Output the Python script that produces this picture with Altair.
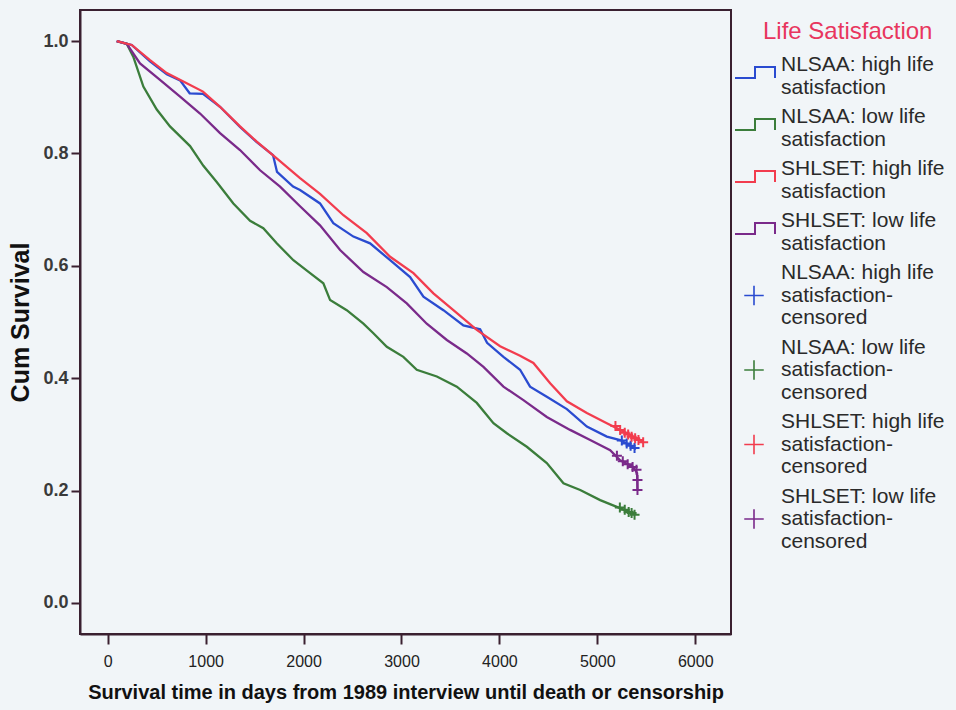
import altair as alt
import pandas as pd

# ---------------- data ----------------
GROUPS = [
    "NLSAA: high life satisfaction",
    "NLSAA: low life satisfaction",
    "SHLSET: high life satisfaction",
    "SHLSET: low life satisfaction",
]
COLORS = ["#2a4bd0", "#3b7d3b", "#f23c4e", "#7a2a8a"]

nl_high_days = [92, 245, 432, 603, 739, 837, 973, 1147, 1351, 1522, 1688, 1729, 1893, 1964, 2168, 2304,
                2509, 2679, 2884, 3088, 3224, 3428, 3632, 3803, 3874, 4041, 4211, 4313, 4484, 4689,
                4893, 5097, 5233, 5397]
nl_high_surv = [1.0, 0.993, 0.964, 0.941, 0.930, 0.907, 0.906, 0.883, 0.847, 0.820, 0.797, 0.767, 0.741,
                0.735, 0.711, 0.676, 0.652, 0.640, 0.610, 0.580, 0.545, 0.521, 0.494, 0.487, 0.463,
                0.438, 0.415, 0.385, 0.367, 0.345, 0.314, 0.296, 0.290, 0.274]

nl_low_days = [92, 194, 261, 364, 501, 636, 841, 977, 1113, 1283, 1454, 1589, 1726, 1896, 2067, 2202,
               2271, 2441, 2611, 2713, 2850, 3019, 3156, 3361, 3565, 3769, 3939, 4076, 4280, 4484,
               4654, 4825, 5029, 5199, 5369]
nl_low_surv = [1.0, 0.995, 0.972, 0.919, 0.878, 0.848, 0.813, 0.778, 0.749, 0.711, 0.680, 0.667, 0.640,
               0.610, 0.587, 0.569, 0.539, 0.521, 0.497, 0.480, 0.456, 0.438, 0.415, 0.403, 0.385,
               0.356, 0.320, 0.302, 0.278, 0.249, 0.213, 0.201, 0.183, 0.171, 0.159]

sh_high_days = [92, 245, 432, 603, 807, 973, 1147, 1351, 1522, 1726, 1964, 2168, 2407, 2646, 2884, 3122,
                3326, 3530, 3769, 4007, 4211, 4347, 4518, 4689, 4893, 5097, 5233, 5437, 5470]
sh_high_surv = [1.0, 0.993, 0.966, 0.943, 0.925, 0.910, 0.883, 0.848, 0.821, 0.791, 0.756, 0.728, 0.690,
                0.658, 0.616, 0.587, 0.551, 0.521, 0.486, 0.457, 0.440, 0.427, 0.391, 0.359, 0.338,
                0.320, 0.308, 0.290, 0.285]

sh_low_days = [92, 194, 330, 534, 739, 943, 1147, 1351, 1556, 1760, 1964, 2168, 2373, 2611, 2850, 3054,
               3258, 3463, 3667, 3837, 4041, 4245, 4484, 4722, 4927, 5131, 5233, 5366, 5406, 5410]
sh_low_surv = [1.0, 0.995, 0.960, 0.931, 0.901, 0.871, 0.836, 0.806, 0.770, 0.741, 0.706, 0.672, 0.628,
               0.589, 0.562, 0.533, 0.497, 0.468, 0.444, 0.420, 0.385, 0.361, 0.331, 0.308, 0.290,
               0.272, 0.254, 0.242, 0.231, 0.201]

# censored observations
cens_nl_high_days = [5250, 5300, 5340, 5380]
cens_nl_high_surv = [0.289, 0.284, 0.280, 0.276]
cens_nl_low_days = [5230, 5280, 5320, 5350, 5380]
cens_nl_low_surv = [0.170, 0.166, 0.162, 0.160, 0.157]
cens_sh_high_days = [5185, 5233, 5280, 5315, 5350, 5386, 5420, 5468]
cens_sh_high_surv = [0.315, 0.308, 0.303, 0.300, 0.296, 0.293, 0.290, 0.286]
cens_sh_low_days = [5200, 5260, 5310, 5360, 5400, 5410, 5410]
cens_sh_low_surv = [0.262, 0.252, 0.247, 0.242, 0.237, 0.219, 0.201]

X_TICKS = [0, 1000, 2000, 3000, 4000, 5000, 6000]
Y_TICKS = [0.0, 0.2, 0.4, 0.6, 0.8, 1.0]
X_TITLE = "Survival time in days from 1989 interview until death or censorship"
Y_TITLE = "Cum Survival"
LEGEND_TITLE = "Life Satisfaction"
LEGEND_ITEMS = [
    (["NLSAA: high life", "satisfaction"], 0, "line"),
    (["NLSAA: low life", "satisfaction"], 1, "line"),
    (["SHLSET: high life", "satisfaction"], 2, "line"),
    (["SHLSET: low life", "satisfaction"], 3, "line"),
    (["NLSAA: high life", "satisfaction-", "censored"], 0, "cens"),
    (["NLSAA: low life", "satisfaction-", "censored"], 1, "cens"),
    (["SHLSET: high life", "satisfaction-", "censored"], 2, "cens"),
    (["SHLSET: low life", "satisfaction-", "censored"], 3, "cens"),
]

# ---------------- layout ----------------
FONT = "Liberation Sans"
FRAME = "#3a2030"
BG = "#f1f5f8"
LEFT, TOP, W, H = 80, 10, 651, 624
TOTAL_W, TOTAL_H = 956, 710
LINE_STEP = 22.5
ITEM_GAP = 7

series = [
    (GROUPS[0], nl_high_days, nl_high_surv, cens_nl_high_days, cens_nl_high_surv),
    (GROUPS[1], nl_low_days, nl_low_surv, cens_nl_low_days, cens_nl_low_surv),
    (GROUPS[2], sh_high_days, sh_high_surv, cens_sh_high_days, cens_sh_high_surv),
    (GROUPS[3], sh_low_days, sh_low_surv, cens_sh_low_days, cens_sh_low_surv),
]

x_scale = alt.Scale(domain=[-283, 6365], nice=False, zero=False)
y_scale = alt.Scale(domain=[-0.0552, 1.0552], nice=False, zero=False)
color_scale = alt.Scale(domain=GROUPS, range=COLORS)

x_axis = alt.Axis(values=X_TICKS, format="d", title=X_TITLE, grid=False, tickSize=10, tickWidth=2,
                  tickColor=FRAME, domainColor=FRAME, domainWidth=2,
                  labelFont=FONT, labelFontSize=16, labelColor="#222222", labelPadding=9,
                  titleFont=FONT, titleFontSize=20, titleFontWeight="bold", titleColor="#111111",
                  titlePadding=13, labelFlush=False)
y_axis = alt.Axis(values=Y_TICKS, format=".1f", title=Y_TITLE, grid=False, tickSize=9, tickWidth=2,
                  tickColor=FRAME, domainColor=FRAME, domainWidth=2,
                  labelFont=FONT, labelFontSize=18, labelFontWeight="bold", labelColor="#3a3a3a",
                  labelPadding=3, titleFont=FONT, titleFontSize=25, titleFontWeight="bold",
                  titleColor="#111111", titlePadding=9, labelFlush=False)

draw_order = [1, 3, 0, 2]
data_layers = []
for k in draw_order:
    g, d, s, cd, cs = series[k]
    df = pd.DataFrame({"group": g, "day": d, "surv": s, "i": list(range(len(d)))})
    data_layers.append(
        alt.Chart(df).mark_line(strokeWidth=2.3).encode(
            x=alt.X("day:Q", scale=x_scale, axis=x_axis),
            y=alt.Y("surv:Q", scale=y_scale, axis=y_axis),
            color=alt.Color("group:N", scale=color_scale, legend=None),
            order="i:Q",
        )
    )
for k in draw_order:
    g, d, s, cd, cs = series[k]
    cdf = pd.DataFrame({"group": g, "day": cd, "surv": cs})
    data_layers.append(
        alt.Chart(cdf).mark_point(shape="M-1,0L1,0M0,-1L0,1", size=100, strokeWidth=2,
                                  filled=False, opacity=1).encode(
            x=alt.X("day:Q", scale=x_scale, axis=x_axis),
            y=alt.Y("surv:Q", scale=y_scale, axis=y_axis),
            color=alt.Color("group:N", scale=color_scale, legend=None),
        )
    )
main = alt.layer(*data_layers)

# ---------------- custom legend (pixel positions relative to plot origin) ----------------
text_rows, step_rows, cross_rows = [], [], []
yc = 65
for lines, gi, kind in LEGEND_ITEMS:
    for j, t in enumerate(lines):
        text_rows.append({"lx": 781 - LEFT, "ly": yc + j * LINE_STEP - TOP, "t": t})
    if kind == "line":
        pts = [(735, yc + 13), (755, yc + 13), (755, yc + 2), (775, yc + 2), (775, yc + 13)]
        for o, (px, py) in enumerate(pts):
            step_rows.append({"lx": px - LEFT, "ly": py - TOP, "group": GROUPS[gi], "o": o})
    else:
        cross_rows.append({"lx": 754 - LEFT, "ly": yc + LINE_STEP - TOP, "group": GROUPS[gi]})
    yc += len(lines) * LINE_STEP + ITEM_GAP

leg_text = alt.Chart(pd.DataFrame(text_rows)).mark_text(
    align="left", baseline="middle", font=FONT, fontSize=21, color="#2a2a2a"
).encode(x=alt.X("lx:Q", scale=None, axis=None), y=alt.Y("ly:Q", scale=None, axis=None), text="t:N")

leg_title = alt.Chart(pd.DataFrame({"lx": [763 - LEFT], "ly": [32 - TOP], "t": [LEGEND_TITLE]})).mark_text(
    align="left", baseline="middle", font=FONT, fontSize=24, color="#e8365e"
).encode(x=alt.X("lx:Q", scale=None, axis=None), y=alt.Y("ly:Q", scale=None, axis=None), text="t:N")

leg_steps = alt.Chart(pd.DataFrame(step_rows)).mark_line(strokeWidth=2).encode(
    x=alt.X("lx:Q", scale=None, axis=None), y=alt.Y("ly:Q", scale=None, axis=None),
    color=alt.Color("group:N", scale=color_scale, legend=None), order="o:Q",
)
leg_cross = alt.Chart(pd.DataFrame(cross_rows)).mark_point(
    shape="M-1,0L1,0M0,-1L0,1", size=380, strokeWidth=1.6, filled=False, opacity=1
).encode(
    x=alt.X("lx:Q", scale=None, axis=None), y=alt.Y("ly:Q", scale=None, axis=None),
    color=alt.Color("group:N", scale=color_scale, legend=None),
)

chart = alt.layer(main, leg_steps, leg_cross, leg_text, leg_title).resolve_scale(
    x="independent", y="independent"
).properties(
    width=W, height=H,
    autosize=alt.AutoSizeParams(type="none"),
    padding={"left": LEFT, "top": TOP, "right": TOTAL_W - LEFT - W, "bottom": TOTAL_H - TOP - H},
    background=BG,
).configure_view(stroke=FRAME, strokeWidth=2, fill=BG)

chart.save("out.html", embed_options={"renderer": "svg", "actions": False})
